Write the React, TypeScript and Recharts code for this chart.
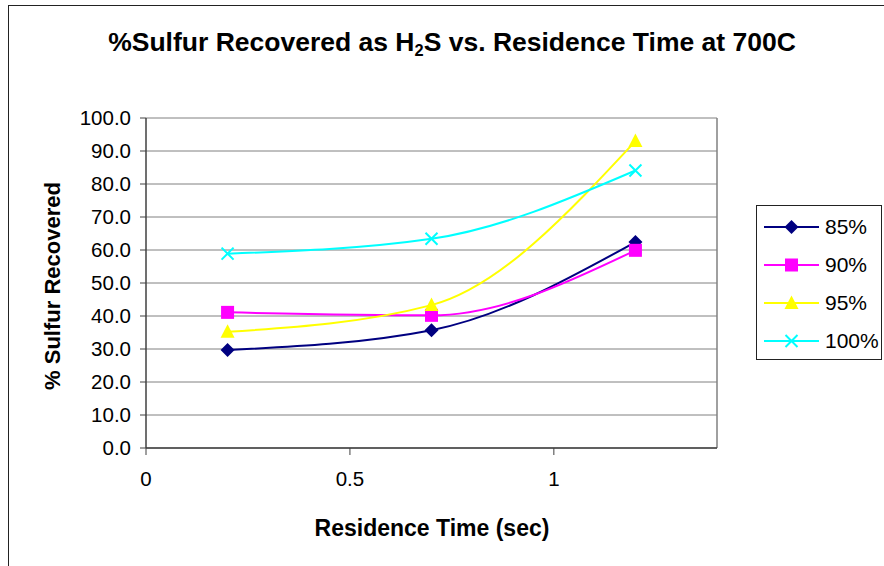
import React from 'react';
import { LineChart, Line, XAxis, YAxis, CartesianGrid, ReferenceLine } from 'recharts';

// Residence time (sec) for each run
const times = [0.2, 0.7, 1.2];

// % sulfur recovered, one list per series
const s85 = [29.7, 35.7, 62.4];
const s90 = [41.1, 40.2, 59.9];
const s95 = [35.2, 43.3, 93.0];
const s100 = [58.9, 63.4, 84.1];

const seriesNames = ['85%', '90%', '95%', '100%'];
const seriesKeys = ['s85', 's90', 's95', 's100'];
const seriesColors = ['#000080', '#FF00FF', '#FFFF00', '#00FFFF'];
const seriesShapes = ['diamond', 'square', 'triangle', 'cross'];

const yTicks = [0, 10, 20, 30, 40, 50, 60, 70, 80, 90, 100];
const xTicks = [0, 0.5, 1];

const data = times.map((t, i) => ({
  t,
  s85: s85[i],
  s90: s90[i],
  s95: s95[i],
  s100: s100[i],
}));

const FONT = "'Liberation Sans', Arial, sans-serif";

function Marker({ shape, cx, cy, color }: { shape: string; cx: number; cy: number; color: string }) {
  if (shape === 'diamond') {
    return <polygon points={`${cx},${cy - 7} ${cx + 7},${cy} ${cx},${cy + 7} ${cx - 7},${cy}`} fill={color} />;
  }
  if (shape === 'square') {
    return <rect x={cx - 6.5} y={cy - 6.5} width={13} height={13} fill={color} />;
  }
  if (shape === 'triangle') {
    return <polygon points={`${cx},${cy - 7.5} ${cx + 7},${cy + 6} ${cx - 7},${cy + 6}`} fill={color} />;
  }
  return (
    <path
      d={`M${cx - 6},${cy - 6}L${cx + 6},${cy + 6}M${cx + 6},${cy - 6}L${cx - 6},${cy + 6}`}
      stroke={color}
      strokeWidth={2}
      fill="none"
    />
  );
}

function LegendBox() {
  return (
    <div
      style={{
        position: 'absolute',
        left: 756,
        top: 205,
        width: 124,
        height: 153,
        border: '1px solid #222',
        background: '#fff',
        fontFamily: FONT,
        fontSize: 21,
      }}
    >
      {seriesNames.map((name, i) => (
        <div key={name} style={{ position: 'absolute', left: 0, top: 21 + i * 38 - 12, height: 24, width: 124 }}>
          <svg width={64} height={24} style={{ position: 'absolute', left: 0, top: 0 }}>
            <line x1={7} y1={12} x2={62} y2={12} stroke={seriesColors[i]} strokeWidth={2} />
            <Marker shape={seriesShapes[i]} cx={34.5} cy={12} color={seriesColors[i]} />
          </svg>
          <span style={{ position: 'absolute', left: 68, top: 0, lineHeight: '24px', color: '#000' }}>{name}</span>
        </div>
      ))}
    </div>
  );
}

export default function App() {
  return (
    <div style={{ position: 'absolute', left: 0, top: 0, width: 884, height: 566, overflow: 'hidden', background: '#fff' }}>
      {/* chart area frame */}
      <div
        style={{
          position: 'absolute',
          left: 8,
          top: 5,
          width: 900,
          height: 600,
          borderLeft: '1px solid #222',
          borderTop: '1px solid #222',
        }}
      />

      <div
        style={{
          position: 'absolute',
          left: 452,
          top: 29,
          transform: 'translateX(-50%)',
          whiteSpace: 'nowrap',
          fontFamily: FONT,
          fontWeight: 'bold',
          fontSize: 26.5,
          lineHeight: '26px',
          color: '#000',
        }}
      >
        %Sulfur Recovered as H<sub style={{ fontSize: '0.62em', verticalAlign: '-0.3em', lineHeight: 0 }}>2</sub>S vs. Residence Time at 700C
      </div>

      <div style={{ position: 'absolute', left: 0, top: 0 }}>
        <LineChart width={884} height={566} data={data} margin={{ top: 118, right: 167, bottom: 88, left: 0 }}>
          <CartesianGrid vertical={false} stroke="#808080" strokeWidth={1} />
          <ReferenceLine x={1.4} stroke="#808080" strokeWidth={1.5} />
          <XAxis
            dataKey="t"
            type="number"
            domain={[0, 1.4]}
            ticks={xTicks}
            height={30}
            tickSize={7}
            tickMargin={16}
            axisLine={{ stroke: '#404040', strokeWidth: 1.5 }}
            tickLine={{ stroke: '#404040' }}
            tick={{ fill: '#000', fontSize: 20.5, fontFamily: FONT }}
            allowDataOverflow
          />
          <YAxis
            type="number"
            domain={[0, 100]}
            ticks={yTicks}
            width={146}
            tickSize={6}
            tickMargin={9}
            tickFormatter={(v: number) => v.toFixed(1)}
            axisLine={{ stroke: '#404040', strokeWidth: 1.5 }}
            tickLine={{ stroke: '#404040' }}
            tick={{ fill: '#000', fontSize: 20.5, fontFamily: FONT }}
          />
          {seriesKeys.map((key, i) => (
            <Line
              key={key}
              dataKey={key}
              name={seriesNames[i]}
              type="monotone"
              stroke={seriesColors[i]}
              strokeWidth={2}
              isAnimationActive={false}
              dot={(p: any) => (
                <Marker key={`${key}-${p.index}`} shape={seriesShapes[i]} cx={p.cx} cy={p.cy} color={seriesColors[i]} />
              )}
              activeDot={false}
            />
          ))}
        </LineChart>
      </div>

      <div
        style={{
          position: 'absolute',
          left: 432,
          top: 528,
          transform: 'translate(-50%, -50%)',
          whiteSpace: 'nowrap',
          fontFamily: FONT,
          fontWeight: 'bold',
          fontSize: 23,
          color: '#000',
        }}
      >
        Residence Time (sec)
      </div>

      <div
        style={{
          position: 'absolute',
          left: 53,
          top: 286,
          transform: 'translate(-50%, -50%) rotate(-90deg)',
          whiteSpace: 'nowrap',
          fontFamily: FONT,
          fontWeight: 'bold',
          fontSize: 22,
          color: '#000',
        }}
      >
        % Sulfur Recovered
      </div>

      <LegendBox />
    </div>
  );
}
